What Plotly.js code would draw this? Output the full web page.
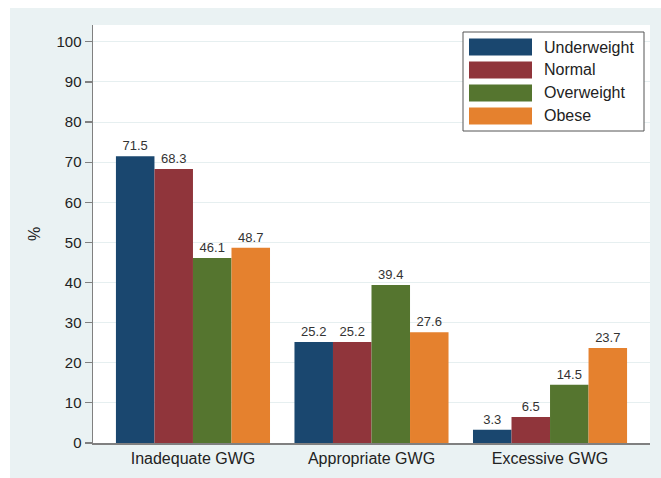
<!DOCTYPE html>
<html>
<head>
<meta charset="utf-8">
<script src="https://cdn.plot.ly/plotly-3.0.1.min.js"></script>
<style>html,body{margin:0;padding:0;background:#fff;}#chart{width:661px;height:478px;}</style>
</head>
<body>
<div id="chart"></div>
<script>
const categories = ["Inadequate GWG", "Appropriate GWG", "Excessive GWG"];
const seriesNames = ["Underweight", "Normal", "Overweight", "Obese"];
const underweight = [71.5, 25.2, 3.3];
const normal = [68.3, 25.2, 6.5];
const overweight = [46.1, 39.4, 14.5];
const obese = [48.7, 27.6, 23.7];
const yTicks = [0, 10, 20, 30, 40, 50, 60, 70, 80, 90, 100];

const seriesValues = [underweight, normal, overweight, obese];
const colors = ["#1a476f", "#90353b", "#55752f", "#e5812e"];
const FONT = "Liberation Sans, Arial, Helvetica, sans-serif";

const W = 661, H = 478;
const M = {l: 93, r: 11, t: 25, b: 35};
const PW = W - M.l - M.r, PH = H - M.t - M.b;
const px = x => (x - M.l) / PW;
const py = y => (H - M.b - y) / PH;

const traces = seriesNames.map((name, i) => ({
  type: "bar",
  name: name,
  x: categories,
  y: seriesValues[i],
  marker: {color: colors[i], line: {width: 0}},
  text: seriesValues[i].map(v => v.toFixed(1)),
  textposition: "outside",
  textfont: {family: FONT, size: 13, color: "#333"},
  constraintext: "none",
  cliponaxis: false,
  hoverinfo: "x+y+name"
}));

const shapes = [
  {type: "rect", xref: "paper", yref: "paper", layer: "below",
   x0: px(10), x1: px(W), y0: py(8), y1: py(H), fillcolor: "#eaf2f3", line: {width: 0}},
  {type: "rect", xref: "paper", yref: "paper", layer: "below",
   x0: 0, x1: 1, y0: 0, y1: 1, fillcolor: "#ffffff", line: {width: 0}},
  {type: "rect", xref: "paper", yref: "paper",
   x0: px(463), x1: px(644), y0: py(32), y1: py(131), fillcolor: "#ffffff", line: {color: "#555", width: 1}}
];
const annotations = [];
seriesNames.forEach((name, i) => {
  const cy = 47 + i * 23;
  shapes.push({type: "rect", xref: "paper", yref: "paper",
    x0: px(469), x1: px(532), y0: py(cy - 8.5), y1: py(cy + 8.5),
    fillcolor: colors[i], line: {width: 0}});
  annotations.push({xref: "paper", yref: "paper", x: px(542), y: py(cy),
    xanchor: "left", yanchor: "middle", showarrow: false, text: name,
    font: {family: FONT, size: 16, color: "#222"}});
});

const layout = {
  width: W, height: H,
  margin: M,
  paper_bgcolor: "#ffffff",
  plot_bgcolor: "#ffffff",
  barmode: "group",
  bargap: 0.137,
  bargroupgap: 0,
  showlegend: false,
  font: {family: FONT, color: "#222"},
  xaxis: {
    type: "category",
    range: [-0.56, 2.56],
    showline: true, linecolor: "#808080", linewidth: 1.5,
    ticks: "", showgrid: false, zeroline: false,
    tickfont: {family: FONT, size: 16, color: "#222"},
    fixedrange: true
  },
  yaxis: {
    range: [0, 104.2],
    tickvals: yTicks,
    ticktext: yTicks.map(String),
    showline: true, linecolor: "#808080", linewidth: 1.5,
    ticks: "outside", ticklen: 7, tickcolor: "#808080", tickwidth: 1.2,
    showgrid: true, gridcolor: "#e6eff0", gridwidth: 1,
    zeroline: false,
    tickfont: {family: FONT, size: 15, color: "#222"},
    title: {text: "%", font: {family: FONT, size: 16, color: "#222"}, standoff: 12},
    fixedrange: true
  },
  shapes: shapes,
  annotations: annotations
};

Plotly.newPlot("chart", traces, layout, {displayModeBar: false, staticPlot: true});
</script>
</body>
</html>
